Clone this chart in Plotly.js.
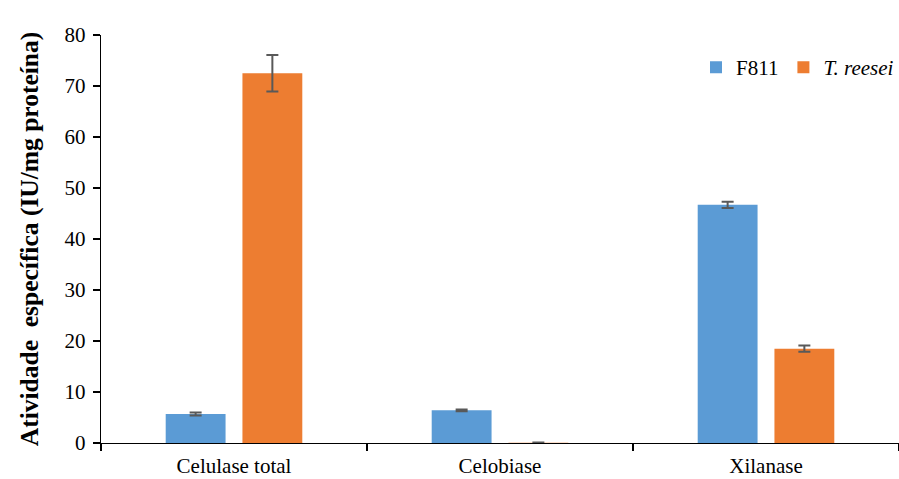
<!DOCTYPE html>
<html>
<head>
<meta charset="utf-8">
<script src="https://cdn.plot.ly/plotly-3.0.1.min.js"></script>
<style>html,body{margin:0;padding:0;background:#fff;}#chart{width:899px;height:479px;}</style>
</head>
<body>
<div id="chart"></div>
<script>
// Specific enzyme activity of strain F811 vs T. reesei
const categories = ["Celulase total", "Celobiase", "Xilanase"];
const f811Values = [5.7, 6.4, 46.7];
const f811Errors = [0.3, 0.15, 0.6];
const reeseiValues = [72.5, 0.05, 18.5];
const reeseiErrors = [3.6, 0.05, 0.6];
const yTicks = [0, 10, 20, 30, 40, 50, 60, 70, 80];

const serif = "'Liberation Serif', 'Times New Roman', serif";
const errStyle = (arr) => ({type: "data", array: arr, visible: true, color: "#595959", thickness: 2, width: 6});

const traces = [
  {type: "bar", name: "F811", x: categories, y: f811Values,
   marker: {color: "#5B9BD5"}, error_y: errStyle(f811Errors)},
  {type: "bar", name: "<i>T. reesei</i>", x: categories, y: reeseiValues,
   marker: {color: "#ED7D31"}, error_y: errStyle(reeseiErrors)}
];

const layout = {
  width: 899, height: 479,
  margin: {l: 101, r: 0, t: 35, b: 36},
  paper_bgcolor: "#fff", plot_bgcolor: "#fff",
  barmode: "group", bargap: 0.423, bargroupgap: 0.22,
  font: {family: serif, color: "#000", size: 21},
  showlegend: true,
  legend: {orientation: "h", x: 1.0, xanchor: "right", y: 0.92, yanchor: "middle",
           font: {family: serif, size: 21, color: "#000"}, bgcolor: "rgba(0,0,0,0)",
           itemwidth: 30, tracegroupgap: 0},
  xaxis: {type: "category", range: [-0.5, 2.5], showline: true, linecolor: "#000", linewidth: 1.3,
          ticks: "outside", tickson: "boundaries", ticklen: 7, tickcolor: "#000", tickwidth: 1.3,
          ticklabelstandoff: 3,
          showgrid: false, zeroline: false, tickfont: {family: serif, size: 21, color: "#000"}},
  yaxis: {range: [0, 80], tickvals: yTicks, showline: true, linecolor: "#000", linewidth: 1.3,
          ticks: "outside", ticklen: 7, tickcolor: "#000", tickwidth: 1.3, showgrid: false, zeroline: false,
          ticklabelstandoff: 3,
          tickfont: {family: serif, size: 21, color: "#000"},
          title: {text: "<b>Atividade\u00a0 específica (IU/mg proteína)</b>", standoff: 18,
                  font: {family: serif, size: 25.5, color: "#000"}}}
};

Plotly.newPlot("chart", traces, layout, {displayModeBar: false, staticPlot: true});
</script>
</body>
</html>
